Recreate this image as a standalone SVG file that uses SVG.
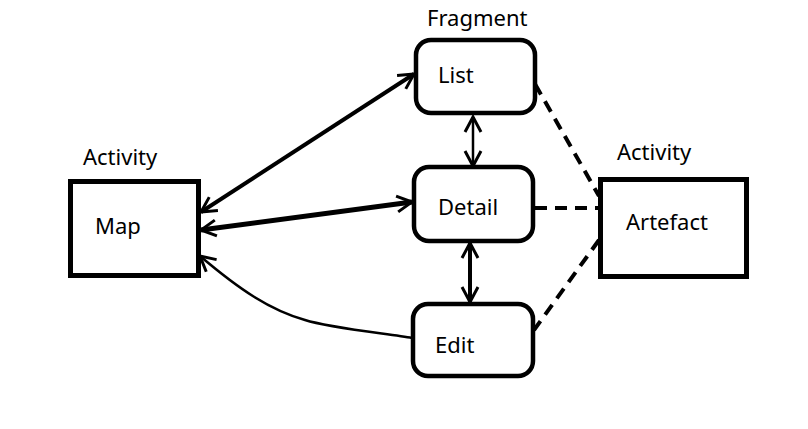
<svg xmlns="http://www.w3.org/2000/svg" width="808" height="429" viewBox="0 0 808 429">
<defs>
<style>
.bg{fill:#fff}
.box{fill:#fff;stroke:#000;stroke-width:5}
.rbox{fill:#fff;stroke:#000;stroke-width:4.5}
.lbl{font-family:"Noto Sans","Open Sans","Liberation Sans",sans-serif;font-size:22px;fill:#000}
.ln{fill:none;stroke:#000;stroke-linecap:butt}
.dash{fill:none;stroke:#000;stroke-width:4;stroke-dasharray:12 8}
</style>
<marker id="arr" viewBox="-18 -10 22 20" refX="0" refY="0" markerWidth="22" markerHeight="20" markerUnits="userSpaceOnUse" orient="auto-start-reverse">
<path d="M-15,-8 L0,0 L-15,8" fill="none" stroke="#000" stroke-width="3"/>
</marker>
</defs>
<rect class="bg" x="0" y="0" width="808" height="429"/>
<g id="connectors">
<path class="ln" d="M201,212 L414,74" stroke-width="4" marker-start="url(#arr)" marker-end="url(#arr)"/>
<path class="ln" d="M201,230 L412,202" stroke-width="5" marker-start="url(#arr)" marker-end="url(#arr)"/>
<path class="ln" d="M473,117 L473,166" stroke-width="2.5" marker-start="url(#arr)" marker-end="url(#arr)"/>
<path class="ln" d="M470,243 L470,302" stroke-width="4" marker-start="url(#arr)" marker-end="url(#arr)"/>
<path class="ln" d="M412,338 C390,334 330,328 305,320 C270,310 240,290 200,256" stroke-width="2.5" marker-end="url(#arr)"/>
<path class="dash" d="M535,84 L599,196"/>
<path class="dash" d="M535,208 L599,208"/>
<path class="dash" d="M599,240 L534,330"/>
</g>
<g id="map">
<text class="lbl" x="83" y="165">Activity</text>
<rect class="box" x="70.5" y="181.5" width="128" height="94"/>
<text class="lbl" x="95" y="234">Map</text>
</g>
<g id="list">
<text class="lbl" x="427" y="26">Fragment</text>
<rect class="rbox" x="416" y="40" width="119" height="73" rx="15"/>
<text class="lbl" x="438" y="83">List</text>
</g>
<g id="detail">
<rect class="rbox" x="414" y="167" width="119" height="74" rx="15"/>
<text class="lbl" x="438" y="215">Detail</text>
</g>
<g id="edit">
<rect class="rbox" x="413" y="304" width="120" height="72" rx="15"/>
<text class="lbl" x="435" y="353">Edit</text>
</g>
<g id="artefact">
<text class="lbl" x="617" y="160">Activity</text>
<rect class="box" x="600.5" y="179.5" width="146" height="97"/>
<text class="lbl" x="626" y="230">Artefact</text>
</g>
</svg>
